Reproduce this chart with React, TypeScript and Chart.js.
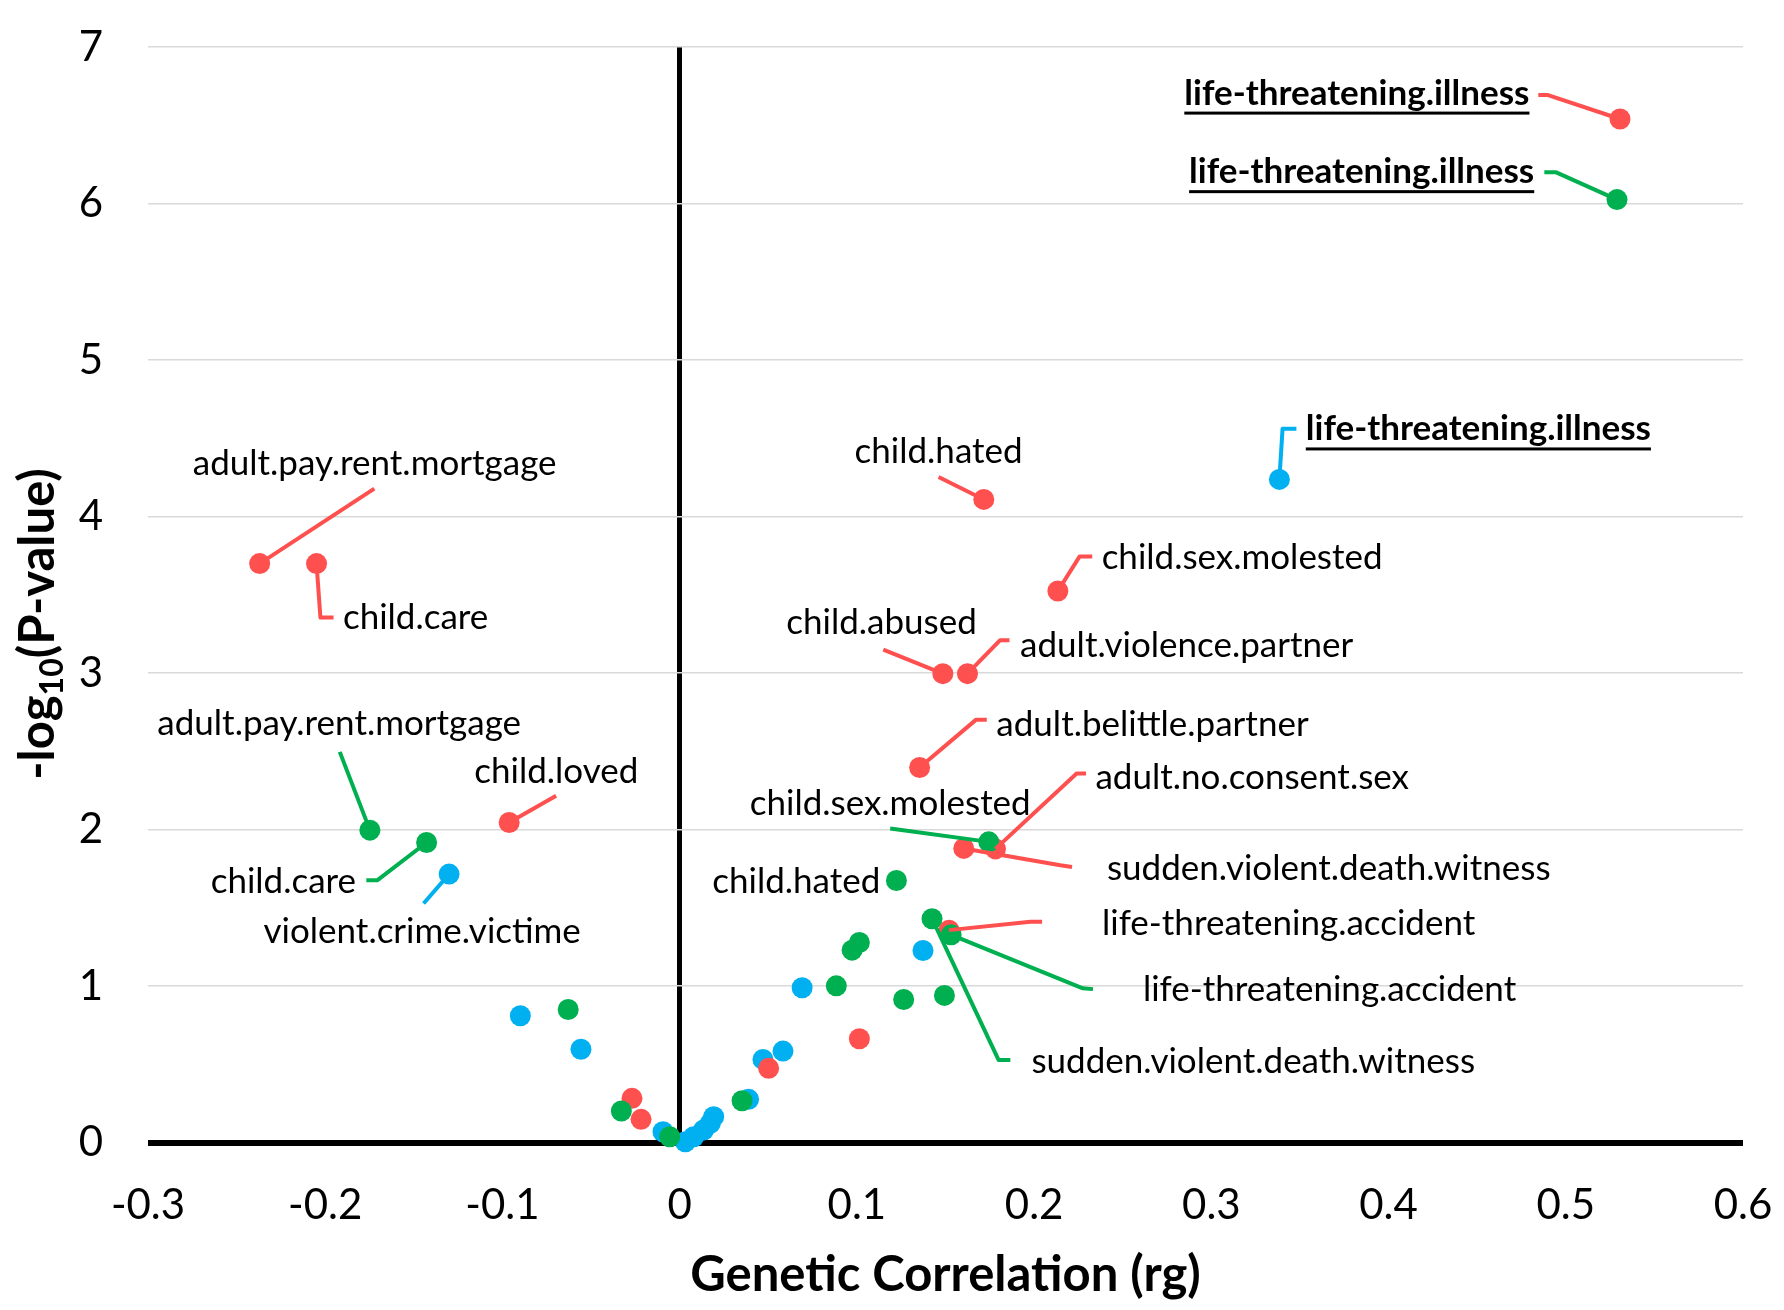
import { useEffect, useRef } from 'react';
import { Chart, registerables } from 'chart.js';

Chart.register(...registerables);

// ---------- data ----------
const xTickValues = [-0.3, -0.2, -0.1, 0, 0.1, 0.2, 0.3, 0.4, 0.5, 0.6];
const yTickValues = [0, 1, 2, 3, 4, 5, 6, 7];

const redRg = [0.5306, 0.1716, 0.2134, 0.1485, 0.1624, 0.1354, 0.1782, 0.1603, 0.152, 0.1014, 0.0502, -0.0269, -0.0218, -0.0962, -0.2049, -0.237];
const redLogP = [6.54, 4.109, 3.524, 2.996, 2.996, 2.396, 1.876, 1.879, 1.357, 0.663, 0.474, 0.282, 0.148, 2.045, 3.699, 3.699];
const redLabels = ['life-threatening.illness', 'child.hated', 'child.sex.molested', 'child.abused', 'adult.violence.partner', 'adult.belittle.partner', 'adult.no.consent.sex', 'sudden.violent.death.witness', 'life-threatening.accident', '', '', '', '', 'child.loved', 'child.care', 'adult.pay.rent.mortgage'];

const greenRg = [0.5289, 0.1744, 0.1223, 0.1424, 0.1532, 0.1014, 0.0973, 0.0884, 0.1264, 0.1494, 0.0352, -0.0329, -0.0056, -0.0629, -0.1428, -0.1748];
const greenLogP = [6.025, 1.921, 1.674, 1.43, 1.327, 1.278, 1.229, 1.001, 0.914, 0.94, 0.267, 0.201, 0.037, 0.85, 1.917, 1.996];
const greenLabels = ['life-threatening.illness', 'child.sex.molested', 'child.hated', 'sudden.violent.death.witness', 'life-threatening.accident', '', '', '', '', '', '', '', '', '', 'child.care', 'adult.pay.rent.mortgage'];

const blueRg = [0.3384, -0.1301, -0.0899, -0.0557, 0.1373, 0.0691, 0.0583, 0.047, 0.0389, 0.0192, 0.0173, 0.0135, 0.0079, 0.0032, -0.0094];
const blueLogP = [4.237, 1.715, 0.81, 0.596, 1.227, 0.989, 0.584, 0.531, 0.276, 0.165, 0.123, 0.08, 0.037, 0.005, 0.069];
const blueLabels = ['life-threatening.illness', 'violent.crime.victime', '', '', '', '', '', '', '', '', '', '', '', '', ''];

// ---------- layout / style ----------
const COLORS = { red: '#FF5050', green: '#00B050', blue: '#00B0F0' };
const LABEL_FONT = '35px Lato';
const BOLD_LABEL_FONT = 'bold 35px Lato';
const TITLE_FONT = 'bold 49px Lato';
const SUB_FONT = 'bold 32px Lato';
const TICK_FONT = { family: 'Lato', size: 42 };

type Callout = { tx: number; ty: number; align: CanvasTextAlign; bold?: boolean; path: number[][] };

// label anchor (text baseline) and leader-line path, in data units
const calloutLayout: Record<string, Record<number, Callout>> = {
  red: {
    0: { tx: 0.4795, ty: 6.632, align: 'right', bold: true, path: [[0.4896, 6.694], [0.4845, 6.694]] },
    1: { tx: 0.1461, ty: 4.345, align: 'center', path: [[0.1461, 4.252]] },
    2: { tx: 0.2381, ty: 3.662, align: 'left', path: [[0.2257, 3.745], [0.2328, 3.745]] },
    3: { tx: 0.1139, ty: 3.247, align: 'center', path: [[0.1149, 3.149]] },
    4: { tx: 0.1921, ty: 3.1, align: 'left', path: [[0.1807, 3.209], [0.1861, 3.209]] },
    5: { tx: 0.1787, ty: 2.596, align: 'left', path: [[0.1673, 2.702], [0.1733, 2.702]] },
    6: { tx: 0.2346, ty: 2.257, align: 'left', path: [[0.224, 2.358], [0.2293, 2.358]] },
    7: { tx: 0.2411, ty: 1.676, align: 'left', path: [[0.2148, 1.772], [0.2214, 1.761]] },
    8: { tx: 0.2383, ty: 1.325, align: 'left', path: [[0.1979, 1.41], [0.2045, 1.41]] },
    13: { tx: -0.0696, ty: 2.296, align: 'center', path: [[-0.0697, 2.215]] },
    14: { tx: -0.19, ty: 3.284, align: 'left', path: [[-0.2027, 3.354], [-0.1953, 3.354]] },
    15: { tx: -0.1721, ty: 4.263, align: 'center', path: [[-0.1723, 4.178]] },
  },
  green: {
    0: { tx: 0.4822, ty: 6.13, align: 'right', bold: true, path: [[0.4946, 6.199], [0.4879, 6.199]] },
    1: { tx: 0.1188, ty: 2.091, align: 'center', path: [[0.1188, 2.006]] },
    2: { tx: 0.1132, ty: 1.594, align: 'right', path: [] },
    3: { tx: 0.1985, ty: 0.444, align: 'left', path: [[0.18, 0.527], [0.1866, 0.527]] },
    4: { tx: 0.2614, ty: 0.904, align: 'left', path: [[0.2275, 0.985], [0.2332, 0.98]] },
    14: { tx: -0.1826, ty: 1.594, align: 'right', path: [[-0.1705, 1.676], [-0.1768, 1.676]] },
    15: { tx: -0.1921, ty: 2.602, align: 'center', path: [[-0.1918, 2.496]] },
  },
  blue: {
    0: { tx: 0.3533, ty: 4.486, align: 'left', bold: true, path: [[0.3402, 4.561], [0.348, 4.561]] },
    1: { tx: -0.1453, ty: 1.274, align: 'center', path: [[-0.1445, 1.527]] },
  },
};

const seriesDefs = [
  { key: 'green', rg: greenRg, logp: greenLogP, labels: greenLabels, color: COLORS.green },
  { key: 'red', rg: redRg, logp: redLogP, labels: redLabels, color: COLORS.red },
  { key: 'blue', rg: blueRg, logp: blueLogP, labels: blueLabels, color: COLORS.blue },
];

const isZero = (v: number) => Math.abs(v) < 1e-9;

export default function App() {
  const ref = useRef<HTMLCanvasElement>(null);

  useEffect(() => {
    document.body.style.margin = '0';
    document.body.style.overflow = 'hidden';
    const canvas = ref.current;
    if (!canvas) return;

    const calloutPlugin = {
      id: 'callouts',
      afterDatasetsDraw(chart: any) {
        const { ctx } = chart;
        const xs = chart.scales.x;
        const ys = chart.scales.y;
        const px = (v: number) => xs.getPixelForValue(v);
        const py = (v: number) => ys.getPixelForValue(v);
        for (const s of seriesDefs) {
          s.labels.forEach((label, i) => {
            if (!label) return;
            const lay = calloutLayout[s.key][i];
            if (!lay) return;
            if (lay.path.length) {
              ctx.save();
              ctx.strokeStyle = s.color;
              ctx.lineWidth = 4;
              ctx.lineJoin = 'round';
              ctx.beginPath();
              ctx.moveTo(px(s.rg[i]), py(s.logp[i]));
              lay.path.forEach(([a, b]) => ctx.lineTo(px(a), py(b)));
              ctx.stroke();
              ctx.restore();
            }
            ctx.save();
            ctx.font = lay.bold ? BOLD_LABEL_FONT : LABEL_FONT;
            ctx.fillStyle = '#000';
            ctx.textAlign = lay.align;
            ctx.textBaseline = 'alphabetic';
            const tx = px(lay.tx);
            const ty = py(lay.ty);
            ctx.fillText(label, tx, ty);
            if (lay.bold) {
              const w = ctx.measureText(label).width;
              const x0 = lay.align === 'right' ? tx - w : lay.align === 'center' ? tx - w / 2 : tx;
              ctx.fillRect(x0, ty + 7, w, 3);
            }
            ctx.restore();
          });
        }
      },
      afterDraw(chart: any) {
        const { ctx, chartArea } = chart;
        // x title
        ctx.save();
        ctx.font = TITLE_FONT;
        ctx.fillStyle = '#000';
        ctx.textAlign = 'center';
        ctx.textBaseline = 'alphabetic';
        ctx.fillText('Genetic Correlation (rg)', (chartArea.left + chartArea.right) / 2, 1291);
        ctx.restore();
        // y title with subscript
        ctx.save();
        ctx.translate(54, 624);
        ctx.rotate(-Math.PI / 2);
        ctx.font = TITLE_FONT;
        const w1 = ctx.measureText('-log').width;
        const w3 = ctx.measureText('(P-value)').width;
        ctx.font = SUB_FONT;
        const w2 = ctx.measureText('10').width;
        let x = -(w1 + w2 + w3) / 2;
        ctx.fillStyle = '#000';
        ctx.textAlign = 'left';
        ctx.textBaseline = 'alphabetic';
        ctx.font = TITLE_FONT;
        ctx.fillText('-log', x, 0);
        x += w1;
        ctx.font = SUB_FONT;
        ctx.fillText('10', x, 9);
        x += w2;
        ctx.font = TITLE_FONT;
        ctx.fillText('(P-value)', x, 0);
        ctx.restore();
      },
    };

    const chart = new Chart(canvas, {
      type: 'scatter',
      data: {
        datasets: seriesDefs.map((s) => ({
          label: s.key,
          data: s.rg.map((x, i) => ({ x, y: s.logp[i] })),
          backgroundColor: s.color,
          borderColor: s.color,
          pointRadius: 10.5,
          pointBorderWidth: 0,
          pointHoverRadius: 10.5,
          clip: false,
        })),
      },
      options: {
        responsive: false,
        animation: false,
        devicePixelRatio: 1,
        layout: { padding: { left: 0, top: 47, right: 41, bottom: 0 } },
        plugins: { legend: { display: false }, tooltip: { enabled: false }, title: { display: false } },
        scales: {
          x: {
            type: 'linear',
            min: -0.3,
            max: 0.6,
            afterBuildTicks: (scale: any) => {
              scale.ticks = xTickValues.map((v) => ({ value: v }));
            },
            afterFit: (scale: any) => {
              scale.height = 167.5;
              scale.paddingLeft = 0;
              scale.paddingRight = 0;
            },
            border: { display: false },
            grid: {
              drawTicks: false,
              color: (c: any) => (isZero(c.tick.value) ? '#000' : 'rgba(0,0,0,0)'),
              lineWidth: (c: any) => (isZero(c.tick.value) ? 5 : 1),
            },
            ticks: {
              padding: 38,
              color: '#000',
              font: TICK_FONT,
              maxRotation: 0,
              autoSkip: false,
              callback: (v: any) => (isZero(Number(v)) ? '0' : Number(v).toFixed(1)),
            },
          },
          y: {
            type: 'linear',
            min: 0,
            max: 7,
            afterBuildTicks: (scale: any) => {
              scale.ticks = yTickValues.map((v) => ({ value: v }));
            },
            afterFit: (scale: any) => {
              scale.width = 148;
              scale.paddingTop = 0;
              scale.paddingBottom = 0;
            },
            border: { display: false },
            grid: {
              drawTicks: false,
              color: (c: any) => (isZero(c.tick.value) ? '#000' : '#D9D9D9'),
              lineWidth: (c: any) => (isZero(c.tick.value) ? 6 : 1.6),
            },
            ticks: {
              padding: 45,
              color: '#000',
              font: TICK_FONT,
              autoSkip: false,
              callback: (v: any) => String(v),
            },
          },
        },
      },
      plugins: [calloutPlugin],
    });

    return () => {
      chart.destroy();
    };
  }, []);

  return (
    <div style={{ position: 'fixed', left: 0, top: 0, width: 1784, height: 1310, background: '#fff' }}>
      <canvas ref={ref} width={1784} height={1310} style={{ width: 1784, height: 1310, display: 'block' }} />
    </div>
  );
}
